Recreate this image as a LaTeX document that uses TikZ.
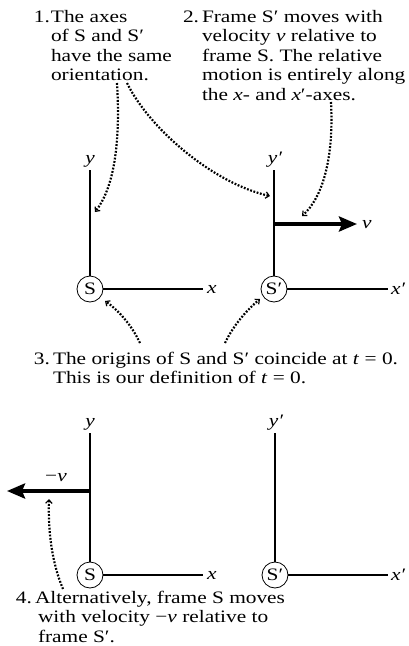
\documentclass[tikz,border=0pt]{standalone}
\usepackage{fontspec}
\setmainfont{Liberation Serif}[FakeStretch=1.22]
\usetikzlibrary{arrows.meta}
\begin{document}
\begin{tikzpicture}[x=1pt,y=-1pt,
  every node/.style={font=\fontsize{17.5}{19.6}\selectfont, inner sep=0pt, outer sep=0pt},
  origin/.style={draw, circle, minimum size=26pt, line width=0.8pt},
  axis/.style={line width=1.1pt},
  axisb/.style={line width=1.6pt},
  note/.style={dash pattern=on 1.8pt off 1.6pt, line width=2.2pt,
    -{Straight Barb[length=3.5pt,width=6.5pt,line width=1.2pt]}},
  vel/.style={line width=3.8pt, -{Stealth[length=18pt,width=15pt,inset=3pt]}},
  lbl/.style={font=\fontsize{17.5}{19.6}\selectfont\itshape},
]
\useasboundingbox (0,0) rectangle (409,646);

% text blocks
\node[anchor=base west] (n1) at (34,22) {\begin{tabular}[t]{@{}l@{\hspace{1pt}}l@{}}1. & The axes\\ & of S and S′\\ & have the same\\ & orientation.\end{tabular}};
\node[anchor=base west] (n2) at (183,22) {\begin{tabular}[t]{@{}l@{\hspace{3pt}}l@{}}2. & Frame S′ moves with\\ & velocity \textit{v} relative to\\ & frame S. The relative\\ & motion is entirely along\\ & the \textit{x}- and \textit{x}′-axes.\end{tabular}};
\node[anchor=base west] (n3) at (34,364) {\begin{tabular}[t]{@{}l@{\hspace{3pt}}l@{}}3. & The origins of S and S′ coincide at \textit{t} = 0.\\ & This is our definition of \textit{t} = 0.\end{tabular}};
\node[anchor=base west] (n4) at (16,603) {\begin{tabular}[t]{@{}l@{\hspace{3pt}}l@{}}4. & Alternatively, frame S moves\\ & \hspace{3pt}with velocity −\textit{v} relative to\\ & \hspace{3pt}frame S′.\end{tabular}};

% upper diagram
\node[origin] (S1) at (90,289) {S};
\node[origin] (S2) at (274,289) {S′};
\coordinate (y1) at (90,170);
\coordinate (x1) at (203,289);
\coordinate (y2) at (274,170);
\coordinate (x2) at (388,289);
\draw[axis] (S1) -- (y1);
\draw[axis] (S1) -- (x1);
\draw[axisb] (S2) -- (y2);
\draw[axis] (S2) -- (x2);
\node[lbl, anchor=base] (ly1) at (90,163) {y};
\node[lbl, anchor=west] (lx1) at (207,289) {x};
\node[lbl, anchor=base] (ly2) at (275,163) {y′};
\node[lbl, anchor=base west] (lx2) at (391,294) {x′};
\coordinate (v0) at (274,224);
\coordinate (v1) at (357,224);
\draw[vel] (v0) -- (v1);
\node[lbl, anchor=base west] (lv) at (362,228) {v};

% lower diagram
\node[origin] (S3) at (90,575) {S};
\node[origin] (S4) at (275,575) {S′};
\coordinate (y3) at (90,433);
\coordinate (x3) at (203,575);
\coordinate (y4) at (275,433);
\coordinate (x4) at (388,575);
\draw[axis] (S3) -- (y3);
\draw[axis] (S3) -- (x3);
\draw[axisb] (S4) -- (y4);
\draw[axis] (S4) -- (x4);
\node[lbl, anchor=base] (ly3) at (90,426) {y};
\node[lbl, anchor=west] (lx3) at (207,575) {x};
\node[lbl, anchor=base] (ly4) at (276,426) {y′};
\node[lbl, anchor=base west] (lx4) at (391,580) {x′};
\coordinate (w0) at (90,491);
\coordinate (w1) at (7,491);
\draw[vel] (w0) -- (w1);
\node[anchor=base] (lw) at (56,481) {−\textit{v}};

% dotted pointers
\coordinate (a1s) at (117,83); \coordinate (a1e) at (95,212);
\coordinate (a2s) at (127,83); \coordinate (a2e) at (270,196);
\coordinate (a3s) at (331,102); \coordinate (a3e) at (302,216);
\coordinate (a4s) at (140,343); \coordinate (a4e) at (105,301);
\coordinate (a5s) at (225,343); \coordinate (a5e) at (260,299);
\coordinate (a6s) at (63,589); \coordinate (a6e) at (49,499);
\draw[note] (a1s) .. controls (121,150) and (112,190) .. (a1e);
\draw[note] (a2s) .. controls (150,130) and (215,184) .. (a2e);
\draw[note] (a3s) .. controls (334,160) and (322,198) .. (a3e);
\draw[note] (a4s) .. controls (131,324) and (118,310) .. (a4e);
\draw[note] (a5s) .. controls (234,324) and (248,309) .. (a5e);
\draw[note] (a6s) .. controls (52,563) and (48,532) .. (a6e);
\end{tikzpicture}
\end{document}
